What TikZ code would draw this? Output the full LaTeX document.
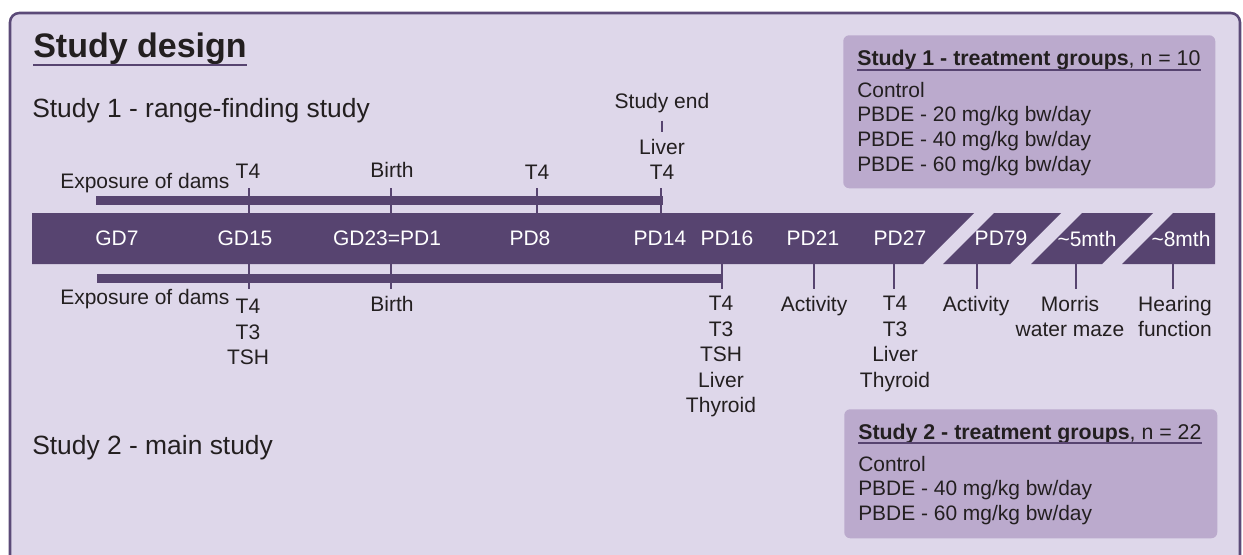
\documentclass[tikz,border=0pt]{standalone}
\usepackage{fontspec}
\setmainfont{Liberation Sans}
\usetikzlibrary{positioning}
\definecolor{framefill}{HTML}{DED7EA}
\definecolor{framedraw}{HTML}{5B4A78}
\definecolor{barcol}{HTML}{574470}
\definecolor{boxfill}{HTML}{BBAACD}
\definecolor{txtcol}{HTML}{231F20}

\begin{document}
\begin{tikzpicture}[x=0.75pt, y=-0.75pt,
    every node/.style={inner sep=0pt, text=txtcol},
    lbl/.style={font=\fontsize{15.75}{19.1}\selectfont, align=center},
    bartxt/.style={font=\fontsize{15.75}{19.1}\selectfont, text=white},
    studytxt/.style={font=\fontsize{19.8}{24}\selectfont, anchor=base west},
    grptxt/.style={font=\fontsize{15.7}{18.4}\selectfont, align=left, anchor=north west},
    grphdr/.style={font=\fontsize{16}{19}\selectfont, anchor=base west},
    grpbox/.style={fill=boxfill, rounded corners=4.5pt, anchor=north west},
    tickln/.style={draw=barcol, line width=1.5pt},
    uline/.style={draw=barcol, line width=1.5pt}]
    \useasboundingbox (0,0) rectangle (1243,554);
    \clip (0,0) rectangle (1243,554);

    % frame
    \draw[framedraw, fill=framefill, line width=1.9pt, rounded corners=7pt] (10,13) rectangle (1240,600);

    % titles
    \node[font=\fontsize{25.5}{30}\selectfont\bfseries, anchor=base west] (title) at (33,57) {Study design};
    \draw[barcol, line width=2.2pt] ([yshift=-6pt]title.base west) -- ([yshift=-6pt]title.base east);
    \node[studytxt] (study1) at (32,117) {Study 1 - range-finding study};
    \node[studytxt] (study2) at (32,454) {Study 2 - main study};

    % time bar
    \fill[barcol] (32,213) -- (974,213) -- (923,264) -- (32,264) -- cycle;
    \fill[barcol] (943,264) -- (994,213) -- (1061,213) -- (1010,264) -- cycle;
    \fill[barcol] (1031,264) -- (1082,213) -- (1153,213) -- (1102,264) -- cycle;
    \fill[barcol] (1122,264) -- (1173,213) -- (1215,213) -- (1215,264) -- cycle;

    % exposure bars
    \fill[barcol] (96,196) rectangle (663,205);
    \fill[barcol] (97,274) rectangle (722,283);

    % ticks
    \foreach \x in {249,391,537,661} \draw[tickln] (\x,213) -- ++(0,-25);
    \foreach \x in {249,391,722,814,894,977,1076,1173} \draw[tickln] (\x,264) -- ++(0,25);

    % bar labels
    \node[bartxt] (gd7) at (117,238.5) {GD7};
    \node[bartxt] (gd15) at (245,238.5) {GD15};
    \node[bartxt] (gd23) at (387,238.5) {GD23=PD1};
    \node[bartxt] (pd8) at (530,238.5) {PD8};
    \node[bartxt] (pd14) at (660,238.5) {PD14};
    \node[bartxt] (pd16) at (727,238.5) {PD16};
    \node[bartxt] (pd21) at (813,238.5) {PD21};
    \node[bartxt] (pd27) at (900,238.5) {PD27};
    \node[bartxt] (pd79) at (1001,238.5) {PD79};
    \node[bartxt] (mth5) at (1087,238.5) {\textasciitilde5mth};
    \node[bartxt] (mth8) at (1181,238.5) {\textasciitilde8mth};

    % study 1 samples
    \node[lbl, anchor=base west] (expo1) at (60,188) {Exposure of dams};
    \node[lbl, anchor=base] (s1gd15) at (248,178) {T4};
    \node[lbl, anchor=base] (birth1) at (392,177) {Birth};
    \node[lbl, anchor=base] (s1pd8) at (537,179) {T4};
    \node[lbl, anchor=base] (s1pd14) at (662,179) {T4};
    \node[lbl, anchor=base] (liver1) at (662,154) {Liver};
    \node[lbl, anchor=base] (studyend) at (662,108) {Study end};
    \draw[tickln, shorten <=6pt, shorten >=5pt] (studyend.south) -- (liver1.north);

    % study 2 samples
    \node[lbl, anchor=base west] (expo2) at (60,304) {Exposure of dams};
    \node[lbl, anchor=north] (s2gd15) at (248,299) {T4\\T3\\TSH};
    \node[lbl, anchor=base] (birth2) at (392,311) {Birth};
    \node[lbl, anchor=north] (s2pd16) at (721,296) {T4\\T3\\TSH\\Liver\\Thyroid};
    \node[lbl, anchor=north] (s2pd21) at (814,296) {Activity};
    \node[lbl, anchor=north] (s2pd27) at (895,296) {T4\\T3\\Liver\\Thyroid};
    \node[lbl, anchor=north] (s2pd79) at (976,296) {Activity};
    \node[lbl, anchor=north] (s2mth5) at (1070,296) {Morris\\water maze};
    \node[lbl, anchor=north] (s2mth8) at (1175,296) {Hearing\\function};

    % treatment groups
    \node[grpbox, minimum width=279pt, minimum height=114.75pt] (box1) at (843,35) {};
    \node[grphdr] (hdr1) at (857,65) {\textbf{Study 1 - treatment groups}, n = 10};
    \draw[uline] ([yshift=-3.75pt]hdr1.base west) -- ([yshift=-3.75pt]hdr1.base east);
    \node[grptxt] (grp1) at (857,82) {Control\\PBDE - 20 mg/kg bw/day\\PBDE - 40 mg/kg bw/day\\PBDE - 60 mg/kg bw/day};

    \node[grpbox, minimum width=279.75pt, minimum height=96.75pt] (box2) at (844,409) {};
    \node[grphdr] (hdr2) at (858,439) {\textbf{Study 2 - treatment groups}, n = 22};
    \draw[uline] ([yshift=-3pt]hdr2.base west) -- ([yshift=-3pt]hdr2.base east);
    \node[grptxt] (grp2) at (858,456) {Control\\PBDE - 40 mg/kg bw/day\\PBDE - 60 mg/kg bw/day};
\end{tikzpicture}
\end{document}
